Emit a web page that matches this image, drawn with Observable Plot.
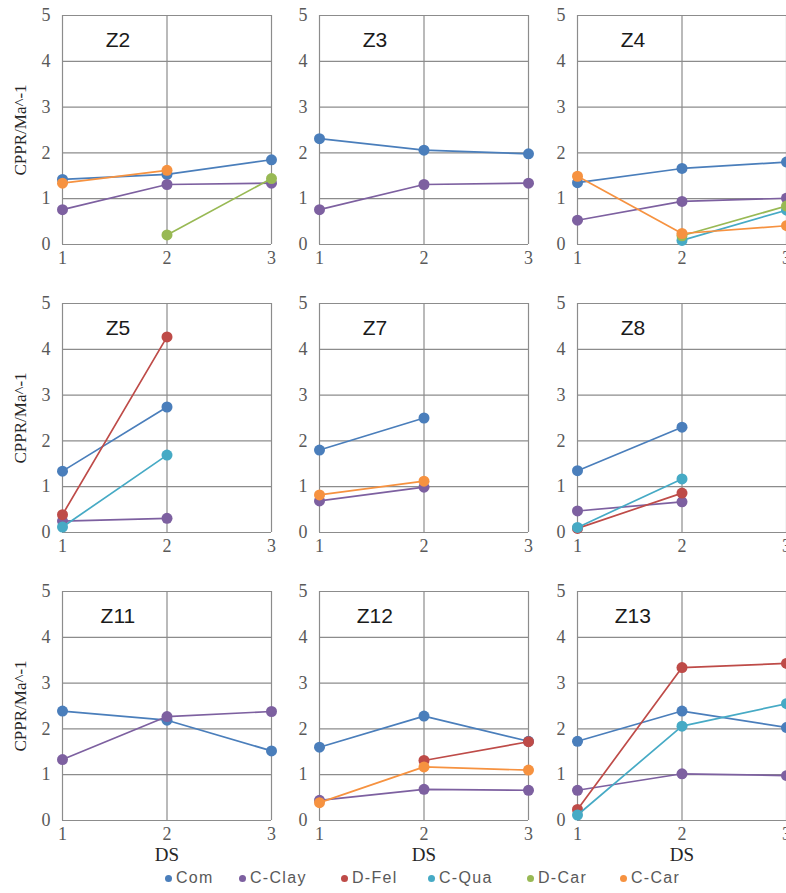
<!DOCTYPE html>
<html><head><meta charset="utf-8">
<script src="https://cdn.jsdelivr.net/npm/d3@7"></script>
<script src="https://cdn.jsdelivr.net/npm/@observablehq/plot@0.6"></script>
<style>
html,body{margin:0;padding:0;background:#fff;overflow:hidden;}
#wrap{position:relative;width:786px;height:893px;overflow:hidden;background:#fff;}
.panel{position:absolute;}
.panel svg{max-width:none !important;overflow:visible;background:transparent;}
.panel svg g[aria-label^="x-axis"] text, .panel svg g[aria-label^="y-axis"] text{font-family:'Liberation Serif','Times New Roman',serif !important;}
.lg{position:absolute;font-family:"Liberation Sans",Arial,sans-serif;font-size:16px;color:#595959;letter-spacing:1.3px;white-space:nowrap;line-height:1;}
.lgdot{position:absolute;width:7px;height:7px;border-radius:50%;}
</style></head><body><div id="wrap"></div>
<script>
// ---- data ----
const zones = ["Z2","Z3","Z4","Z5","Z7","Z8","Z11","Z12","Z13"];
const ds = [1, 2, 3];
const seriesNames = ["Com","C-Clay","D-Fel","C-Qua","D-Car","C-Car"];
const seriesColors = ["#4A7EBB","#7D60A0","#BE4B48","#46AAC5","#98B954","#F69240"];
const yTicks = [0, 1, 2, 3, 4, 5];
const yLabel = "CPPR/Ma^-1";
const xLabel = "DS";
const N = null;
// values per zone, in DS order 1,2,3
const com   = [[1.42,1.53,1.85],[2.31,2.06,1.98],[1.35,1.66,1.80],[1.34,2.74,N],[1.80,2.50,N],[1.35,2.30,N],[2.39,2.19,1.52],[1.60,2.28,1.73],[1.73,2.39,2.03]];
const cClay = [[0.76,1.31,1.34],[0.76,1.31,1.34],[0.53,0.94,1.01],[0.25,0.31,N],[0.69,0.99,N],[0.47,0.67,N],[1.33,2.27,2.38],[0.44,0.68,0.66],[0.66,1.02,0.98]];
const dFel  = [[N,N,N],[N,N,N],[N,N,N],[0.39,4.27,N],[N,N,N],[0.09,0.86,N],[N,N,N],[N,1.31,1.72],[0.24,3.34,3.43]];
const cQua  = [[N,N,N],[N,N,N],[N,0.09,0.75],[0.12,1.69,N],[N,N,N],[0.11,1.17,N],[N,N,N],[N,N,N],[0.12,2.06,2.55]];
const dCar  = [[N,0.21,1.44],[N,N,N],[N,0.19,0.84],[N,N,N],[N,N,N],[N,N,N],[N,N,N],[N,N,N],[N,N,N]];
const cCar  = [[1.34,1.62,N],[N,N,N],[1.49,0.24,0.41],[N,N,N],[0.82,1.12,N],[N,N,N],[N,N,N],[0.39,1.17,1.10],[N,N,N]];
const seriesValues = [com, cClay, dFel, cQua, dCar, cCar];

// ---- layout ----
const colLeft = [62, 319, 577];
const rowTop = [15, 303, 591];
const FW = 209, FH = 229;
const ML = 62, MT = 6, MR = 6;
const SERIF = "'Liberation Serif', 'Times New Roman', serif";
const SANS = "'Liberation Sans', Arial, sans-serif";
const wrap = document.getElementById("wrap");

zones.forEach((z, zi) => {
  const r = Math.floor(zi / 3), c = zi % 3;
  const MB = r === 2 ? 60 : 30;
  const marks = [
    Plot.gridY({ticks: yTicks, stroke: "#8c8c8c", strokeOpacity: 1, strokeWidth: 1.2}),
    Plot.gridX({ticks: ds, stroke: "#8c8c8c", strokeOpacity: 1, strokeWidth: 1.2}),
    Plot.axisY({ticks: yTicks, tickFormat: "d", tickSize: 0, tickPadding: 12, fontSize: 18, fontFamily: SERIF, color: "#595959", label: null}),
    Plot.axisX({ticks: ds, tickFormat: "d", tickSize: 0, tickPadding: 7, fontSize: 18, fontFamily: SERIF, color: "#595959", label: null}),
    Plot.text([z], {x: [1.53], y: [4.45], text: d => d, fontSize: 21, fontFamily: SANS, fill: "#1a1a1a", textAnchor: "middle"})
  ];
  seriesNames.forEach((s, si) => {
    const rows = ds.map((d, i) => ({ds: d, v: seriesValues[si][zi][i]})).filter(d => d.v != null);
    if (!rows.length) return;
    marks.push(Plot.line(rows, {x: "ds", y: "v", stroke: seriesColors[si], strokeWidth: 1.7}));
    marks.push(Plot.dot(rows, {x: "ds", y: "v", r: 5.5, fill: seriesColors[si], stroke: "none"}));
  });
  if (c === 0) marks.push(Plot.text([yLabel], {frameAnchor: "left", textAnchor: "middle", dx: -42, rotate: -90, text: d => d, fontSize: 17, fontFamily: SERIF, fill: "#262626"}));
  if (r === 2) marks.push(Plot.text([xLabel], {x: [2], frameAnchor: "bottom", textAnchor: "middle", dy: 40, text: d => d, fontSize: 19, fontFamily: SERIF, fill: "#262626"}));

  const plot = Plot.plot({
    width: ML + FW + MR, height: MT + FH + MB,
    marginLeft: ML, marginRight: MR, marginTop: MT, marginBottom: MB,
    x: {domain: [1, 3]}, y: {domain: [0, 5]},
    style: {background: "transparent", overflow: "visible", fontFamily: SERIF},
    marks
  });
  const div = document.createElement("div");
  div.className = "panel";
  div.style.left = (colLeft[c] - ML) + "px";
  div.style.top = (rowTop[r] - MT) + "px";
  div.appendChild(plot);
  wrap.appendChild(div);
});

// legend
const legendDotX = [168, 242, 344, 431, 530, 623];
const legendY = 878;
seriesNames.forEach((s, i) => {
  const dot = document.createElement("div");
  dot.className = "lgdot";
  dot.style.background = seriesColors[i];
  dot.style.left = (legendDotX[i] - 3.5) + "px";
  dot.style.top = (legendY - 3.5) + "px";
  wrap.appendChild(dot);
  const t = document.createElement("div");
  t.className = "lg";
  t.textContent = s;
  t.style.left = (legendDotX[i] + 8) + "px";
  t.style.top = (legendY - 8) + "px";
  wrap.appendChild(t);
});
</script></body></html>
